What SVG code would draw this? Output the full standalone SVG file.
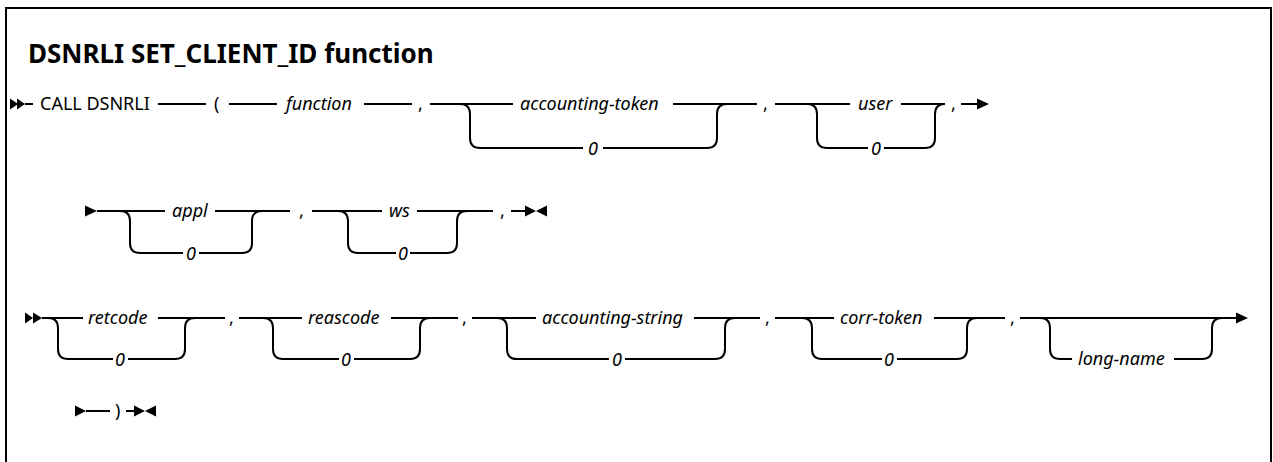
<svg xmlns="http://www.w3.org/2000/svg" width="1273" height="462" viewBox="0 0 1273 462">
<style>
.t{font-family:"Noto Sans","Liberation Sans",sans-serif;font-size:18px;fill:#000}
.i{font-style:italic}
.m{text-anchor:middle}
.title{font-family:"Noto Sans","Liberation Sans",sans-serif;font-size:26px;font-weight:bold;fill:#000}
.ln{fill:none;stroke:#000;stroke-width:2}
.ah{fill:#000}
.fr{fill:none;stroke:#000;stroke-width:2}
</style>
<rect width="1273" height="462" fill="#fff"/>
<path class="fr" d="M6,463 V8 H1271 V463"/>
<text class="title" x="28" y="63">DSNRLI SET_CLIENT_ID function</text>

<g id="connectors">
<!-- row 1 : main 104, lower 148 -->
<polygon class="ah" points="10,98.5 18,104 10,109.5"/>
<polygon class="ah" points="17,98.5 25,104 17,109.5"/>
<path class="ln" d="M25,104 H33 M158,104 H206 M229,104 H277 M364,104 H412 M430,104 H513 M673,104 H757 M775,104 H850 M901,104 H945 M961,104 H978"/>
<polygon class="ah" points="977,98.5 989,104 977,109.5"/>
<path class="ln" d="M460,104 Q470,104 470,114 V138 Q470,148 480,148 H583 M603,148 H707 Q717,148 717,138 V114 Q717,104 727,104"/>
<path class="ln" d="M807,104 Q817,104 817,114 V138 Q817,148 827,148 H868 M884,148 H925 Q935,148 935,138 V114 Q935,104 945,104"/>
<!-- row 2 : main 211, lower 253 -->
<polygon class="ah" points="85,205.5 97,211 85,216.5"/>
<path class="ln" d="M97,211 H165 M215,211 H290 M312,211 H382 M417,211 H493 M511,211 H526"/>
<path class="ln" d="M120,211 Q130,211 130,221 V243 Q130,253 140,253 H183 M199,253 H242 Q252,253 252,243 V221 Q252,211 262,211"/>
<path class="ln" d="M338,211 Q348,211 348,221 V243 Q348,253 358,253 H396 M410,253 H447 Q457,253 457,243 V221 Q457,211 467,211"/>
<polygon class="ah" points="525,205.5 536,211 525,216.5"/>
<polygon class="ah" points="547,205.5 536,211 547,216.5"/>
<!-- row 3 : main 318, lower 359 -->
<polygon class="ah" points="25,312.5 33,318 25,323.5"/>
<polygon class="ah" points="33,312.5 42,318 33,323.5"/>
<path class="ln" d="M42,318 H83 M158,318 H225 M239,318 H302 M391,318 H458 M472,318 H536 M694,318 H760 M775,318 H834 M934,318 H1005 M1020,318 H1237"/>
<polygon class="ah" points="1236,312.5 1248,318 1236,323.5"/>
<path class="ln" d="M48,318 Q58,318 58,328 V349 Q58,359 68,359 H113 M128,359 H175 Q185,359 185,349 V328 Q185,318 195,318"/>
<path class="ln" d="M263,318 Q273,318 273,328 V349 Q273,359 283,359 H339 M354,359 H410 Q420,359 420,349 V328 Q420,318 430,318"/>
<path class="ln" d="M497,318 Q507,318 507,328 V349 Q507,359 517,359 H609 M625,359 H715 Q725,359 725,349 V328 Q725,318 735,318"/>
<path class="ln" d="M802,318 Q812,318 812,328 V349 Q812,359 822,359 H882 M897,359 H957 Q967,359 967,349 V328 Q967,318 977,318"/>
<path class="ln" d="M1040,318 Q1050,318 1050,328 V349 Q1050,359 1060,359 H1072 M1174,359 H1202 Q1212,359 1212,349 V328 Q1212,318 1222,318"/>
<!-- row 4 : 411 -->
<polygon class="ah" points="75,405.5 86,411 75,416.5"/>
<path class="ln" d="M86,411 H110 M126,411 H135"/>
<polygon class="ah" points="134,405.5 145,411 134,416.5"/>
<polygon class="ah" points="156,405.5 145,411 156,416.5"/>
</g>

<g id="n-call"><text class="t" x="40" y="110">CALL DSNRLI</text></g>
<g id="n-lparen"><text class="t" x="214" y="110">(</text></g>
<g id="n-function"><text class="t i" x="286" y="110">function</text></g>
<g id="n-c1"><text class="t" x="418" y="110">,</text></g>
<g id="n-acctok"><text class="t i" x="520" y="110">accounting-token</text><text class="t i m" x="593" y="154.5">0</text></g>
<g id="n-c2"><text class="t" x="763" y="110">,</text></g>
<g id="n-user"><text class="t i" x="858" y="110">user</text><text class="t i m" x="876" y="154.5">0</text></g>
<g id="n-c3"><text class="t" x="951" y="110">,</text></g>

<g id="n-appl"><text class="t i" x="172" y="217">appl</text><text class="t i m" x="191" y="259.5">0</text></g>
<g id="n-c4"><text class="t" x="299" y="217">,</text></g>
<g id="n-ws"><text class="t i" x="389" y="217">ws</text><text class="t i m" x="403" y="259.5">0</text></g>
<g id="n-c5"><text class="t" x="500" y="217">,</text></g>

<g id="n-retcode"><text class="t i" x="88" y="324">retcode</text><text class="t i m" x="120" y="365.5">0</text></g>
<g id="n-c6"><text class="t" x="229" y="324">,</text></g>
<g id="n-reascode"><text class="t i" x="308" y="324">reascode</text><text class="t i m" x="346" y="365.5">0</text></g>
<g id="n-c7"><text class="t" x="462" y="324">,</text></g>
<g id="n-accstr"><text class="t i" x="542" y="324">accounting-string</text><text class="t i m" x="617" y="365.5">0</text></g>
<g id="n-c8"><text class="t" x="765" y="324">,</text></g>
<g id="n-corr"><text class="t i" x="840" y="324">corr-token</text><text class="t i m" x="889" y="365.5">0</text></g>
<g id="n-c9"><text class="t" x="1010" y="324">,</text></g>
<g id="n-longname"><text class="t i" x="1078" y="365">long-name</text></g>

<g id="n-rparen"><text class="t" x="115" y="417">)</text></g>
</svg>
